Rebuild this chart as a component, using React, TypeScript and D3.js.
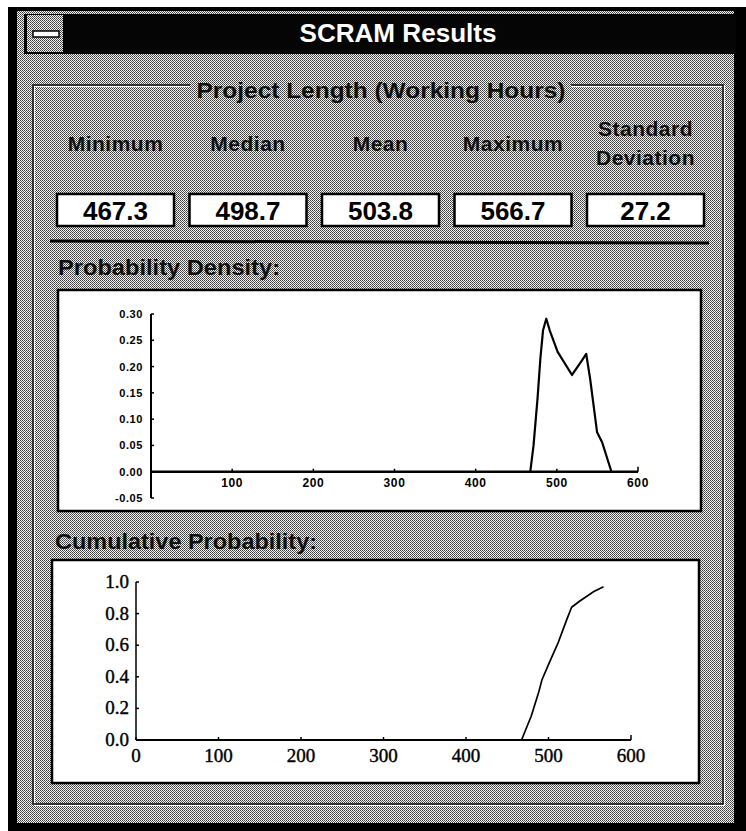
import React from "react";
import * as d3 from "d3";

// ---- data ----
const statLabels = ["Minimum", "Median", "Mean", "Maximum", "Standard Deviation"];
const statValues = ["467.3", "498.7", "503.8", "566.7", "27.2"];

const densityHours = [467.3, 471.3, 476.2, 479.7, 483, 487, 491.2, 501, 518.7, 531, 536.2, 541, 549.6, 555.8, 567.3];
const densityProb = [0, 0.05, 0.139, 0.215, 0.269, 0.291, 0.269, 0.228, 0.184, 0.212, 0.224, 0.177, 0.075, 0.056, 0];
const densityYTicks = [-0.05, 0, 0.05, 0.1, 0.15, 0.2, 0.25, 0.3];
const densityXTicks = [100, 200, 300, 400, 500, 600];

const cumHours = [467.3, 479, 488, 492, 501, 512, 522, 528, 538, 555, 566.7];
const cumProb = [0, 0.15, 0.3, 0.38, 0.49, 0.62, 0.76, 0.84, 0.88, 0.94, 0.97];
const cumYTicks = [0, 0.2, 0.4, 0.6, 0.8, 1.0];
const cumXTicks = [0, 100, 200, 300, 400, 500, 600];

const SANS = "'Liberation Sans', Arial, sans-serif";
const SERIF = "'Liberation Serif', 'Times New Roman', serif";

export default function App() {
  const W = 746, H = 831;

  // density scales
  const dx = d3.scaleLinear().domain([0, 600]).range([151, 638]);
  const dy = d3.scaleLinear().domain([-0.05, 0.3]).range([498, 314]);
  const dLine = d3.line<number>().x((_, i) => dx(densityHours[i])).y((d) => dy(d));

  // cumulative scales
  const cx = d3.scaleLinear().domain([0, 600]).range([136, 631]);
  const cy = d3.scaleLinear().domain([0, 1]).range([740, 582]);
  const cLine = d3.line<number>().x((_, i) => cx(cumHours[i])).y((d) => cy(d));

  const col = d3.scalePoint<string>().domain(statLabels).range([115.5, 645.5]);
  const boxW = 117;

  return (
    <svg width={W} height={H} style={{ position: "absolute", left: 0, top: 0, display: "block" }}>
      <defs>
        <pattern id="dither" width="2" height="2" patternUnits="userSpaceOnUse">
          <rect width="2" height="2" fill="#f4f4f4" />
          <rect x="0" y="0" width="1" height="1" fill="#3a3a3a" />
          <rect x="1" y="1" width="1" height="1" fill="#5a5a5a" />
        </pattern>
      </defs>
      <rect width={W} height={H} fill="#ffffff" />
      {/* window frame */}
      <rect x={8} y={7} width={738} height={824} fill="#000" />
      <rect x={17} y={11} width={717} height={812} fill="url(#dither)" />
      {/* title bar */}
      <rect x={24} y={14} width={712} height={40} fill="#050505" />
      <rect x={27} y={15} width={36} height={37} fill="url(#dither)" />
      <rect x={33} y={31} width={26} height={6} fill="#fff" stroke="#000" strokeWidth={1.5} />
      <text x={398} y={42} textAnchor="middle" fill="#fff" fontFamily={SANS} fontWeight="bold" fontSize={26}
        textLength={197} lengthAdjust="spacingAndGlyphs">SCRAM Results</text>

      {/* group box */}
      <rect x={33} y={85} width={690} height={719} fill="none" stroke="#ffffff" strokeWidth={1} transform="translate(1.5,1.5)" />
      <rect x={33} y={85} width={690} height={719} fill="none" stroke="#1a1a1a" strokeWidth={1.6} />
      <rect x={190} y={76} width={381} height={20} fill="url(#dither)" />
      <text x={381} y={98} textAnchor="middle" fill="#111" fontFamily={SANS} fontWeight="bold" fontSize={22}
        textLength={369} lengthAdjust="spacingAndGlyphs">Project Length (Working Hours)</text>

      {/* stat labels */}
      {statLabels.map((lab) => {
        const parts = lab.split(" ");
        const x = col(lab)!;
        if (parts.length === 1) {
          return (
            <text key={lab} x={x} y={151} textAnchor="middle" fill="#111" fontFamily={SANS} fontWeight="bold"
              fontSize={21} letterSpacing={0.5}>{lab}</text>
          );
        }
        return (
          <g key={lab}>
            <text x={x} y={136} textAnchor="middle" fill="#111" fontFamily={SANS} fontWeight="bold" fontSize={21} letterSpacing={0.5}>{parts[0]}</text>
            <text x={x} y={165} textAnchor="middle" fill="#111" fontFamily={SANS} fontWeight="bold" fontSize={21} letterSpacing={0.5}>{parts[1]}</text>
          </g>
        );
      })}
      {/* value boxes */}
      {statValues.map((v, i) => {
        const x = col(statLabels[i])!;
        return (
          <g key={i}>
            <rect x={x - boxW / 2} y={194} width={boxW} height={32} fill="#fff" stroke="#000" strokeWidth={2.5} />
            <text x={x} y={220} textAnchor="middle" fill="#000" fontFamily={SANS} fontWeight="bold" fontSize={26}>{v}</text>
          </g>
        );
      })}
      {/* separator */}
      <line x1={50} y1={241} x2={709} y2={243} stroke="#000" strokeWidth={3} />

      {/* Probability density */}
      <text x={58} y={275} fill="#111" fontFamily={SANS} fontWeight="bold" fontSize={22}
        textLength={222} lengthAdjust="spacingAndGlyphs">Probability Density:</text>
      <rect x={58} y={290} width={643} height={221} fill="#fff" stroke="#000" strokeWidth={2.5} />
      <line x1={dx(0)} y1={dy(0.3)} x2={dx(0)} y2={dy(-0.05)} stroke="#000" strokeWidth={2} />
      <line x1={dx(0)} y1={dy(0)} x2={dx(600)} y2={dy(0)} stroke="#000" strokeWidth={2.5} />
      {densityYTicks.map((t) => (
        <g key={t}>
          <line x1={dx(0)} x2={dx(0) + 3} y1={dy(t)} y2={dy(t)} stroke="#000" strokeWidth={1.5} />
          <text x={143} y={dy(t) + 4} textAnchor="end" fill="#000" fontFamily={SANS} fontWeight="bold" fontSize={11}
            letterSpacing={0.6}>{t.toFixed(2)}</text>
        </g>
      ))}
      {densityXTicks.map((t) => (
        <g key={t}>
          <line x1={dx(t)} x2={dx(t)} y1={dy(0)} y2={dy(0) - (t === 600 ? 5 : 3)} stroke="#000" strokeWidth={1.5} />
          <text x={dx(t)} y={dy(0) + 15} textAnchor="middle" fill="#000" fontFamily={SANS} fontWeight="bold" fontSize={12}
            letterSpacing={0.6}>{t}</text>
        </g>
      ))}
      <path d={dLine(densityProb) ?? ""} fill="none" stroke="#000" strokeWidth={2.2} strokeLinejoin="round" />

      {/* Cumulative probability */}
      <text x={55} y={549} fill="#111" fontFamily={SANS} fontWeight="bold" fontSize={22}
        textLength={262} lengthAdjust="spacingAndGlyphs">Cumulative Probability:</text>
      <rect x={52} y={560} width={647} height={223} fill="#fff" stroke="#000" strokeWidth={2.5} />
      <line x1={cx(0)} y1={cy(1)} x2={cx(0)} y2={cy(0)} stroke="#000" strokeWidth={1.5} />
      <line x1={cx(0)} y1={cy(0)} x2={cx(600)} y2={cy(0)} stroke="#000" strokeWidth={1.8} />
      {cumYTicks.map((t) => (
        <g key={t}>
          <line x1={cx(0)} x2={cx(0) + 3} y1={cy(t)} y2={cy(t)} stroke="#000" strokeWidth={1.5} />
          <text x={129} y={cy(t) + 6} textAnchor="end" fill="#000" fontFamily={SERIF} fontSize={19}
            stroke="#000" strokeWidth={0.4}>{t.toFixed(1)}</text>
        </g>
      ))}
      {cumXTicks.map((t) => (
        <g key={t}>
          <line x1={cx(t)} x2={cx(t)} y1={cy(0)} y2={cy(0) - (t === 600 ? 5 : 3)} stroke="#000" strokeWidth={1.5} />
          <text x={cx(t)} y={cy(0) + 22} textAnchor="middle" fill="#000" fontFamily={SERIF} fontSize={19}
            stroke="#000" strokeWidth={0.4}>{t}</text>
        </g>
      ))}
      <path d={cLine(cumProb) ?? ""} fill="none" stroke="#000" strokeWidth={1.7} strokeLinejoin="round" />
    </svg>
  );
}
